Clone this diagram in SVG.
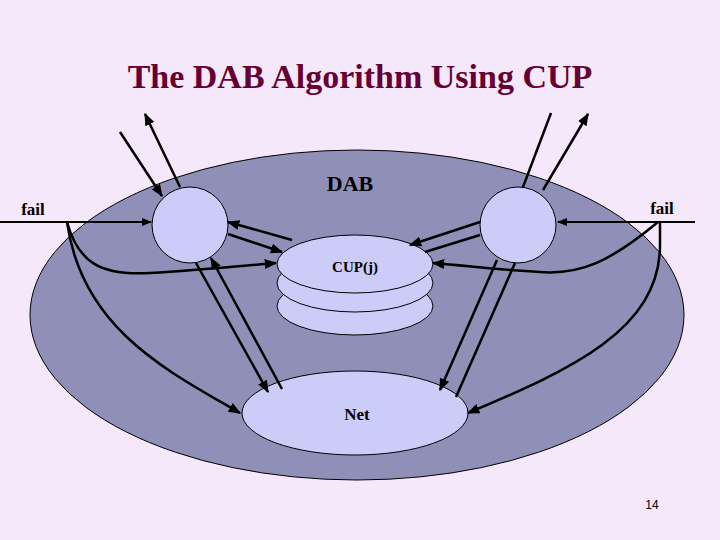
<svg xmlns="http://www.w3.org/2000/svg" width="720" height="540" viewBox="0 0 720 540">
<defs>
<marker id="a" viewBox="0 0 10 10" refX="9" refY="5" markerWidth="5" markerHeight="5" orient="auto"><path d="M0,1 L10,5 L0,9 Z" fill="#000"/></marker>
<style>
.n{fill:#CCCCF8;stroke:#000;stroke-width:1}
.c{fill:none;stroke:#000;stroke-width:2.5}
.t{font-family:"Liberation Serif",serif;font-weight:bold;fill:#000;text-anchor:middle}
</style>
</defs>
<rect width="720" height="540" fill="#F5E8FA"/>
<text x="360" y="88" class="t" style="font-size:34px;fill:#660033">The DAB Algorithm Using CUP</text>
<g id="dab"><ellipse cx="357" cy="315" rx="327" ry="165" fill="#8F8FB8" stroke="#000"/>
<text x="350" y="191" class="t" style="font-size:22px">DAB</text></g>
<g id="left"><circle cx="190" cy="225" r="38" class="n"/></g>
<g id="right"><circle cx="518" cy="225" r="38" class="n"/></g>
<g id="cup">
<ellipse cx="355" cy="306" rx="78" ry="29" class="n"/>
<ellipse cx="355" cy="283" rx="78" ry="29" class="n"/>
<ellipse cx="355" cy="264" rx="78" ry="29" class="n"/>
<text x="355" y="272" class="t" style="font-size:15px">CUP(j)</text></g>
<g id="net"><ellipse cx="355" cy="413" rx="113" ry="42" class="n"/>
<text x="357" y="420" class="t" style="font-size:17px">Net</text></g>
<text x="33" y="215" class="t" style="font-size:17px">fail</text>
<text x="662" y="214" class="t" style="font-size:17px">fail</text>
<text x="652" y="509" style="font-family:'Liberation Sans',sans-serif;font-size:12px;text-anchor:middle">14</text>
<g id="connectors" class="c">
<line x1="120" y1="132" x2="162" y2="196" marker-end="url(#a)"/>
<line x1="180" y1="187" x2="145" y2="114" marker-end="url(#a)"/>
<line x1="0" y1="222" x2="151" y2="222" stroke-width="2" marker-end="url(#a)"/>
<path d="M67,222 C78,262 100,276 150,273 C200,270 240,266 276,263" marker-end="url(#a)"/>
<path d="M67,222 C82,330 170,372 240,413" marker-end="url(#a)"/>
<line x1="292" y1="240" x2="228" y2="222" marker-end="url(#a)"/>
<line x1="228" y1="234" x2="282" y2="252" marker-end="url(#a)"/>
<line x1="196" y1="263" x2="268" y2="392" marker-end="url(#a)"/>
<line x1="282" y1="389" x2="211" y2="258" marker-end="url(#a)"/>
<line x1="551" y1="113" x2="523" y2="187"/>
<line x1="543" y1="190" x2="588" y2="114" marker-end="url(#a)"/>
<line x1="695" y1="222" x2="558" y2="222" stroke-width="2" marker-end="url(#a)"/>
<path d="M658,222 C610,262 580,275 540,272 C500,270 470,266 433,263" marker-end="url(#a)"/>
<path d="M660,222 L660,245 C660,330 570,370 468,413" marker-end="url(#a)"/>
<line x1="480" y1="222" x2="410" y2="245" marker-end="url(#a)"/>
<line x1="480" y1="235" x2="425" y2="252"/>
<line x1="497" y1="260" x2="440" y2="390" marker-end="url(#a)"/>
<line x1="456" y1="397" x2="515" y2="263"/>
</g>
</svg>
